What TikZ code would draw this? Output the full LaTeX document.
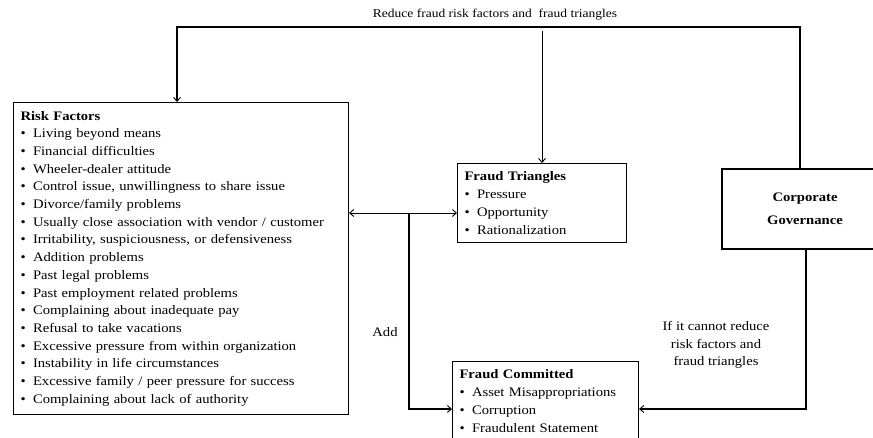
\documentclass[tikz,border=0pt]{standalone}
\usepackage{fontspec}
\setmainfont{Liberation Serif}[FakeStretch=1.125]
\usetikzlibrary{arrows.meta,calc,positioning}
\newcommand{\itm}[1]{\makebox[12.5pt][l]{\textbullet}#1}

\begin{document}
\begin{tikzpicture}[x=1pt,y=-1pt,
    font=\fontsize{13}{17.7}\selectfont,
    box/.style={draw=black,line width=1.1pt,anchor=north west,align=left,inner xsep=7pt,inner ysep=0pt},
    link/.style={line width=1.6pt,-{Straight Barb[length=4pt,width=7pt,line width=0.9pt]}},
    thin link/.style={line width=0.9pt,-{Straight Barb[length=4pt,width=7pt]}}]
  \useasboundingbox (0,0) rectangle (873,438);

  \node[box,minimum width=335pt,minimum height=312pt,text width=321pt] (risk) at (13,102)
    {\textbf{Risk Factors}\\
     \itm{Living beyond means}\\
     \itm{Financial difficulties}\\
     \itm{Wheeler-dealer attitude}\\
     \itm{Control issue, unwillingness to share issue}\\
     \itm{Divorce/family problems}\\
     \itm{Usually close association with vendor / customer}\\
     \itm{Irritability, suspiciousness, or defensiveness}\\
     \itm{Addition problems}\\
     \itm{Past legal problems}\\
     \itm{Past employment related problems}\\
     \itm{Complaining about inadequate pay}\\
     \itm{Refusal to take vacations}\\
     \itm{Excessive pressure from within organization}\\
     \itm{Instability in life circumstances}\\
     \itm{Excessive family / peer pressure for success}\\
     \itm{Complaining about lack of authority}};

  \node[box,minimum width=169pt,minimum height=79pt,text width=155pt] (ft) at (457,163)
    {\textbf{Fraud Triangles}\\
     \itm{Pressure}\\
     \itm{Opportunity}\\
     \itm{Rationalization}};

  \node[box,minimum width=186pt,minimum height=79pt,text width=172pt,inner ysep=1pt] (fc) at (452,361)
    {\textbf{Fraud Committed}\\
     \itm{Asset Misappropriations}\\
     \itm{Corruption}\\
     \itm{Fraudulent Statement}};

  % governance box runs past the right margin
  \node[align=center,font=\fontsize{13}{23}\selectfont\bfseries] (cg) at (805,209)
    {Corporate\\Governance};
  \draw[line width=1.1pt] (890,169) -- (722,169) -- (722,249) -- (890,249);

  % feedback from governance
  \coordinate (topR) at (800,27);
  \coordinate (topL) at (177,27);
  \coordinate (midT) at (542,31);
  \coordinate (cgTop) at (800,169);
  \coordinate (cgBot) at (806,249);
  \node[font=\fontsize{12}{14}\selectfont] (reduce) at (495,15) {Reduce fraud risk factors and\ \ fraud triangles};
  \draw[link] (cgTop) -- (topR) -- (topL) -- (risk.north -| topL);
  \draw[thin link] (midT) -- (midT |- ft.north);

  % risk factors and triangles lead to fraud
  \coordinate (split) at (409,213);
  \coordinate (fcY) at (0,409);
  \draw[thin link,{Straight Barb[length=4pt,width=7pt]}-{Straight Barb[length=4pt,width=7pt]}] (risk.east |- split) -- (ft.west |- split);
  \draw[link] (split) |- (fc.west |- fcY);
  \node (add) at (385,332) {Add};

  \draw[link] (cgBot) |- (fc.east |- fcY);
  \node[align=center,font=\fontsize{13}{17.5}\selectfont] (cannot) at (716,345)
    {If it cannot reduce\\risk factors and\\fraud triangles};
\end{tikzpicture}
\end{document}
